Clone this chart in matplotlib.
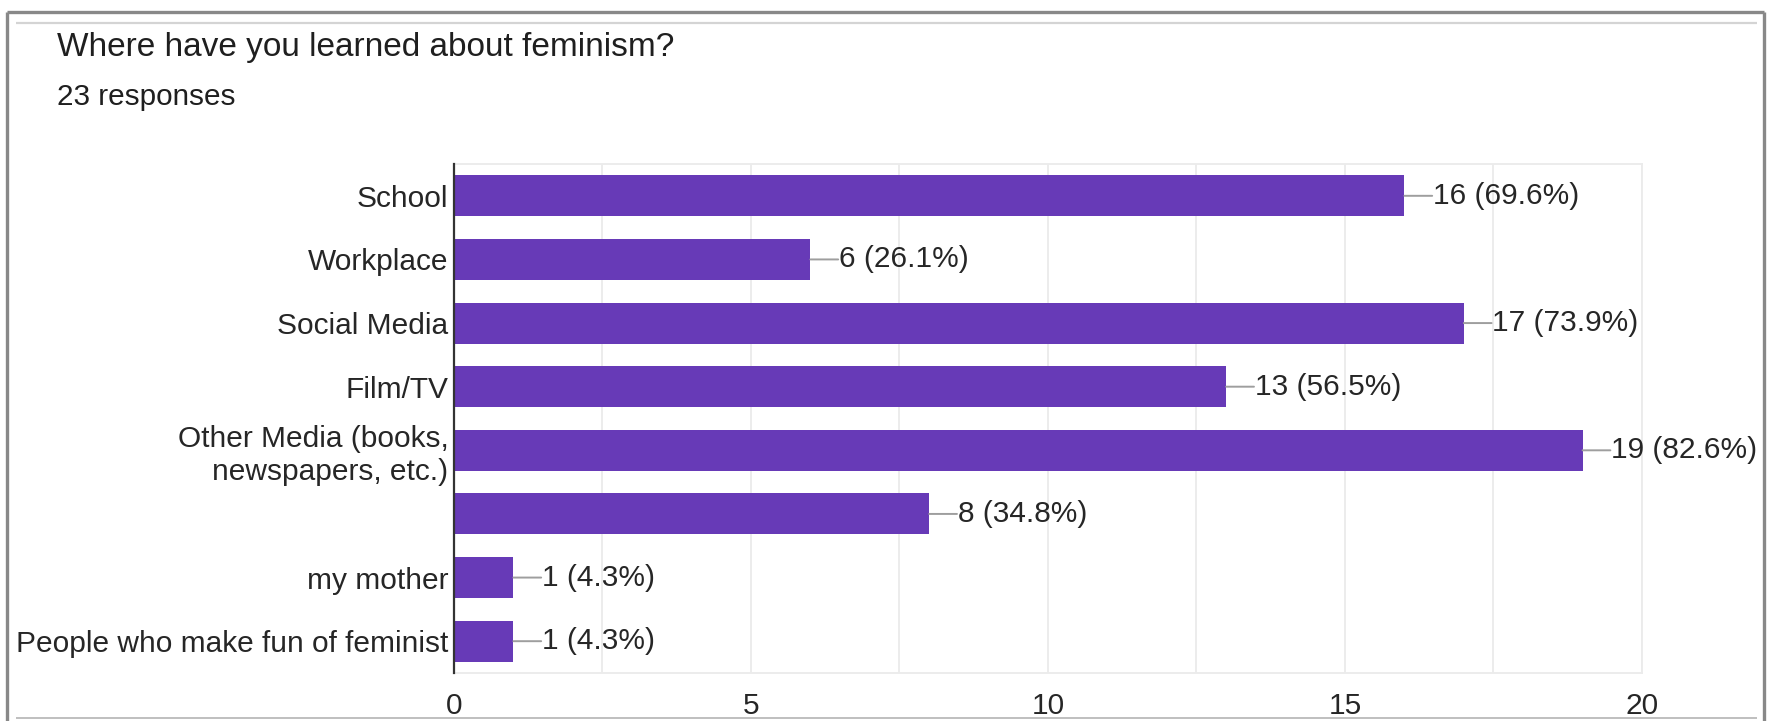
import matplotlib
matplotlib.use("Agg")
import matplotlib.pyplot as plt
from matplotlib.lines import Line2D
from matplotlib.ticker import MultipleLocator

plt.rcParams['font.family'] = ['Liberation Sans', 'DejaVu Sans']

# survey answers
question = "Where have you learned about feminism?"
total_responses = 23
sources = [
    "School",
    "Workplace",
    "Social Media",
    "Film/TV",
    "Other Media (books,\nnewspapers, etc.)",
    "",
    "my mother",
    "People who make fun of feminist",
]
counts = [16, 6, 17, 13, 19, 8, 1, 1]
x_ticks = [0, 5, 10, 15, 20]

BAR = "#673ab7"
TEXT = "#262626"
W, H = 1774, 721

fig = plt.figure(figsize=(W / 100, H / 100), dpi=100)
fig.patch.set_facecolor("white")


def px(x, y):
    # pixel position measured from the top-left corner -> figure fraction
    return x / W, 1 - y / H


def fig_line(x0, y0, x1, y1, color, lw):
    (a, b), (c, d) = px(x0, y0), px(x1, y1)
    fig.add_artist(Line2D([a, c], [b, d], transform=fig.transFigure,
                          color=color, lw=lw, solid_capstyle="butt"))


# card frame around the chart
fig_line(7, 12, 1764, 12, "#888888", 2.4)
fig_line(7, 12, 7, H, "#888888", 2.4)
fig_line(1764, 12, 1764, H, "#888888", 2.4)
fig_line(16, 23, 1757, 23, "#d4d4d4", 1.6)
fig_line(16, 718, 1757, 718, "#b4b4b4", 1.2)

# header
fig.text(*px(57, 56), question, fontsize=24, color="#1f1f1f", va="baseline")
fig.text(*px(57, 105), f"{total_responses} responses", fontsize=21.4,
         color="#1f1f1f", va="baseline")

left, right, top, bottom = 454, 1642, 164, 673
x0, y0 = px(left, bottom)
ax = fig.add_axes([x0, y0, (right - left) / W, (bottom - top) / H])

ypos = list(range(len(sources)))
ax.barh(ypos, counts, height=0.645, color=BAR, zorder=3)

ax.set_xlim(0, 20)
ax.set_ylim(len(sources) - 0.5, -0.5)
ax.set_xticks(x_ticks)
ax.set_xticklabels([str(t) for t in x_ticks])
ax.xaxis.set_minor_locator(MultipleLocator(2.5))
ax.set_yticks(ypos)
ax.set_yticklabels(sources, linespacing=1.2)

ax.tick_params(axis="both", which="both", length=0, labelsize=21.5,
               labelcolor=TEXT)
ax.tick_params(axis="x", pad=13.5)
ax.tick_params(axis="y", pad=4)

ax.grid(axis="x", which="both", color="#ebebeb", lw=1.3, zorder=0)
for side in ("top", "right", "bottom"):
    ax.spines[side].set_color("#ebebeb")
    ax.spines[side].set_linewidth(1.3)
ax.spines["left"].set_color("#333333")
ax.spines["left"].set_linewidth(1.6)
ax.spines["left"].set_zorder(4)

# value labels with short leader lines
for y, c in zip(ypos, counts):
    pct = c / total_responses * 100
    ax.annotate("", xy=(c, y), xytext=(20, 0), textcoords="offset points",
                arrowprops=dict(arrowstyle="-", color="#9e9e9e", lw=1.4,
                                shrinkA=0, shrinkB=0))
    ax.annotate(f"{c} ({pct:.1f}%)", xy=(c, y), xytext=(20.5, 0),
                textcoords="offset points", va="center", ha="left",
                fontsize=21.5, color=TEXT, annotation_clip=False)

fig.savefig("out.png", dpi=100, facecolor="white")
